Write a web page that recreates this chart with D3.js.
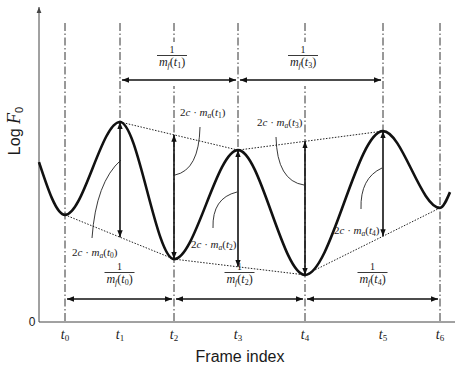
<!DOCTYPE html>
<html>
<head>
<meta charset="utf-8">
<script src="https://cdn.jsdelivr.net/npm/d3@7"></script>
<style>
  body { margin: 0; background: #fff; }
  text { fill: #1a1a1a; }
</style>
</head>
<body>
<svg id="chart" width="455" height="367"></svg>
<script>
// tick names and their frame positions
const tickNames = ["0", "1", "2", "3", "4", "5", "6"];
const tFrames = [6.5, 20.25, 33.75, 49.75, 66.5, 86, 100.25];
// F0 contour: start point, extremes at t0..t6, end point
const curveFrames = [0, 6.5, 20.25, 33.75, 49.75, 66.5, 86, 100.25, 102.75];
const curveLogF0 = [5.06, 3.39, 6.33, 1.99, 5.44, 1.49, 6.04, 3.61, 4.11];
const peakTicks = [1, 3, 5];
const valleyTicks = [0, 2, 4, 6];
// amplitude arrows (2c·m_a) sit on these ticks
const ampTicks = [1, 2, 3, 4, 5];
const ampNames = ["0", "1", "2", "3", "4"];
// period arrows (1/m_f): [from tick, to tick, label index, label tick]
const topSpans = [[1, 3, "1", 2], [3, 5, "3", 4]];
const bottomSpans = [[0, 2, "0", 1], [2, 4, "2", 3], [4, 6, "4", 5]];

const SERIF = "'Liberation Serif', 'Times New Roman', Times, serif";
const SANS = "'Liberation Sans', Arial, Helvetica, sans-serif";

const W = 455;
const svg = d3.select("#chart");
const x = d3.scaleLinear().domain([0, 104]).range([39, 455]);
const y = d3.scaleLinear().domain([0, 10]).range([322, 6]);

const valueAt = (i) => curveLogF0[curveFrames.indexOf(tFrames[i])];
const upperEnv = d3.scaleLinear()
  .domain(peakTicks.map((i) => tFrames[i]))
  .range(peakTicks.map(valueAt));
const lowerEnv = d3.scaleLinear()
  .domain(valleyTicks.map((i) => tFrames[i]))
  .range(valleyTicks.map(valueAt));

// markers
const defs = svg.append("defs");
defs.append("marker")
  .attr("id", "head")
  .attr("markerUnits", "userSpaceOnUse")
  .attr("markerWidth", 8).attr("markerHeight", 6)
  .attr("refX", 7).attr("refY", 3)
  .attr("orient", "auto-start-reverse")
  .append("path").attr("d", "M0,0.3 L7,3 L0,5.7 Z").attr("fill", "#111");
defs.append("marker")
  .attr("id", "axhead")
  .attr("markerUnits", "userSpaceOnUse")
  .attr("markerWidth", 8).attr("markerHeight", 8)
  .attr("refX", 6).attr("refY", 3)
  .attr("orient", "auto")
  .append("path").attr("d", "M0,0.6 L6,3 L0,5.4 Z").attr("fill", "#444");

// dash-dot guide lines
const guideTop = 23;
svg.append("g")
  .selectAll("line")
  .data(tFrames)
  .enter()
  .append("line")
  .attr("x1", (d) => x(d)).attr("x2", (d) => x(d))
  .attr("y1", guideTop)
  .attr("y2", (d, i) => (peakTicks.includes(i) ? y(valueAt(i)) : y(0)))
  .attr("stroke", "#333")
  .attr("stroke-width", 1)
  .attr("stroke-dasharray", "8,2.5,1.5,2.5");

// white backgrounds for top fractions
topSpans.forEach((s) => {
  svg.append("rect")
    .attr("x", x(tFrames[s[3]]) - 18).attr("y", 42)
    .attr("width", 34).attr("height", 44)
    .attr("fill", "#fff");
});

// axes
svg.append("line")
  .attr("x1", x(0)).attr("x2", x(0))
  .attr("y1", y(0)).attr("y2", 7)
  .attr("stroke", "#444").attr("stroke-width", 1)
  .attr("marker-end", "url(#axhead)");
svg.append("line")
  .attr("x1", x(0)).attr("x2", W)
  .attr("y1", y(0)).attr("y2", y(0))
  .attr("stroke", "#444").attr("stroke-width", 1);

// envelopes
const dotted = (frames, vals) => {
  svg.append("path")
    .attr("d", d3.line().x((d) => x(d[0])).y((d) => y(d[1]))(d3.zip(frames, vals)))
    .attr("fill", "none")
    .attr("stroke", "#222")
    .attr("stroke-width", 1)
    .attr("stroke-dasharray", "1.5,1.5");
};
dotted(peakTicks.map((i) => tFrames[i]), peakTicks.map(valueAt));
dotted(valleyTicks.map((i) => tFrames[i]), valleyTicks.map(valueAt));

// F0 contour
svg.append("path")
  .attr("d", d3.line().curve(d3.curveMonotoneX)
    .x((d) => x(d[0])).y((d) => y(d[1]))(d3.zip(curveFrames, curveLogF0)))
  .attr("fill", "none")
  .attr("stroke", "#111")
  .attr("stroke-width", 2.6);

// amplitude arrows
svg.append("g")
  .selectAll("line")
  .data(ampTicks)
  .enter()
  .append("line")
  .attr("x1", (i) => x(tFrames[i])).attr("x2", (i) => x(tFrames[i]))
  .attr("y1", (i) => y(valueAt(i)))
  .attr("y2", (i) => y(peakTicks.includes(i) ? lowerEnv(tFrames[i]) : upperEnv(tFrames[i])))
  .attr("stroke", "#111")
  .attr("stroke-width", 1.6)
  .attr("marker-start", "url(#head)")
  .attr("marker-end", "url(#head)");

// period arrows
const spanArrow = (s, yy) => {
  svg.append("line")
    .attr("x1", x(tFrames[s[0]]) + 2).attr("x2", x(tFrames[s[1]]) - 2)
    .attr("y1", yy).attr("y2", yy)
    .attr("stroke", "#111").attr("stroke-width", 1.6)
    .attr("marker-start", "url(#head)")
    .attr("marker-end", "url(#head)");
};
topSpans.forEach((s) => spanArrow(s, 80));
bottomSpans.forEach((s) => spanArrow(s, 299));

// small helper for italic / upright / subscript pieces
function piece(t, str, opt = {}) {
  const s = t.append("tspan").text(str)
    .attr("font-style", opt.up ? "normal" : "italic");
  if (opt.size) s.attr("font-size", opt.size);
  if (opt.dy) s.attr("dy", opt.dy);
  return s;
}

// fraction 1/m_f(t_i)
function fraction(cx, top, idx) {
  svg.append("text").attr("x", cx).attr("y", top + 8)
    .attr("text-anchor", "middle").attr("font-size", 10)
    .attr("font-family", SERIF).text("1");
  svg.append("line").attr("x1", cx - 15).attr("x2", cx + 15)
    .attr("y1", top + 10.5).attr("y2", top + 10.5)
    .attr("stroke", "#222").attr("stroke-width", 0.9);
  const t = svg.append("text").attr("x", cx).attr("y", top + 21)
    .attr("text-anchor", "middle").attr("font-size", 12)
    .attr("font-family", SERIF);
  piece(t, "m");
  piece(t, "f", { size: 8, dy: 2 });
  piece(t, "(", { up: true, dy: -2 });
  piece(t, "t");
  piece(t, idx, { up: true, size: 8, dy: 2 });
  piece(t, ")", { up: true, dy: -2 });
}
topSpans.forEach((s) => fraction(x(tFrames[s[3]]) - 2, 45, s[2]));
bottomSpans.forEach((s) => fraction((x(tFrames[s[0]]) + x(tFrames[s[1]])) / 2, 262, s[2]));

// 2c·m_a(t_i) labels with leader curves
const ampLabels = [
  { tx: 72, ty: 256, leader: "M92,238 Q96,182 121,160" },
  { tx: 180, ty: 116, leader: "M200,127 Q199,170 175,175" },
  { tx: 191, ty: 248, leader: "M213,228 Q212,198 237,192" },
  { tx: 257, ty: 126, leader: "M276,137 Q277,181 304,185" },
  { tx: 334, ty: 234, leader: "M361,209 Q360,178 382,168" },
];
ampLabels.forEach((l, k) => {
  svg.append("path").attr("d", l.leader)
    .attr("fill", "none").attr("stroke", "#222").attr("stroke-width", 0.9);
  const t = svg.append("text")
    .attr("x", l.tx).attr("y", l.ty).attr("font-size", 11)
    .attr("font-family", SERIF);
  piece(t, "2", { up: true });
  piece(t, "c");
  piece(t, " \u00b7 ", { up: true });
  piece(t, "m");
  piece(t, "a", { size: 7.5, dy: 2 });
  piece(t, "(", { up: true, dy: -2 });
  piece(t, "t");
  piece(t, ampNames[k], { up: true, size: 7.5, dy: 2 });
  piece(t, ")", { up: true, dy: -2 });
});

// tick labels
tFrames.forEach((f, i) => {
  const t = svg.append("text")
    .attr("x", x(f)).attr("y", 339)
    .attr("text-anchor", "middle").attr("font-size", 14)
    .attr("font-family", SERIF);
  piece(t, "t");
  piece(t, tickNames[i], { up: true, size: 9, dy: 2 });
});

svg.append("text").attr("font-family", SANS)
  .attr("x", 32).attr("y", 326)
  .attr("text-anchor", "middle").attr("font-size", 12).text("0");

svg.append("text").attr("font-family", SANS)
  .attr("x", 240).attr("y", 362)
  .attr("text-anchor", "middle").attr("font-size", 16).text("Frame index");

const yl = svg.append("text")
  .attr("transform", "translate(20,131) rotate(-90)")
  .attr("text-anchor", "middle");
yl.append("tspan").attr("font-family", SANS).attr("font-size", 16).text("Log ");
yl.append("tspan").attr("font-family", SERIF).attr("font-style", "italic")
  .attr("font-size", 18).text("F");
yl.append("tspan").attr("font-family", SANS).attr("font-size", 11).attr("dy", 3).text("0");
</script>
</body>
</html>
